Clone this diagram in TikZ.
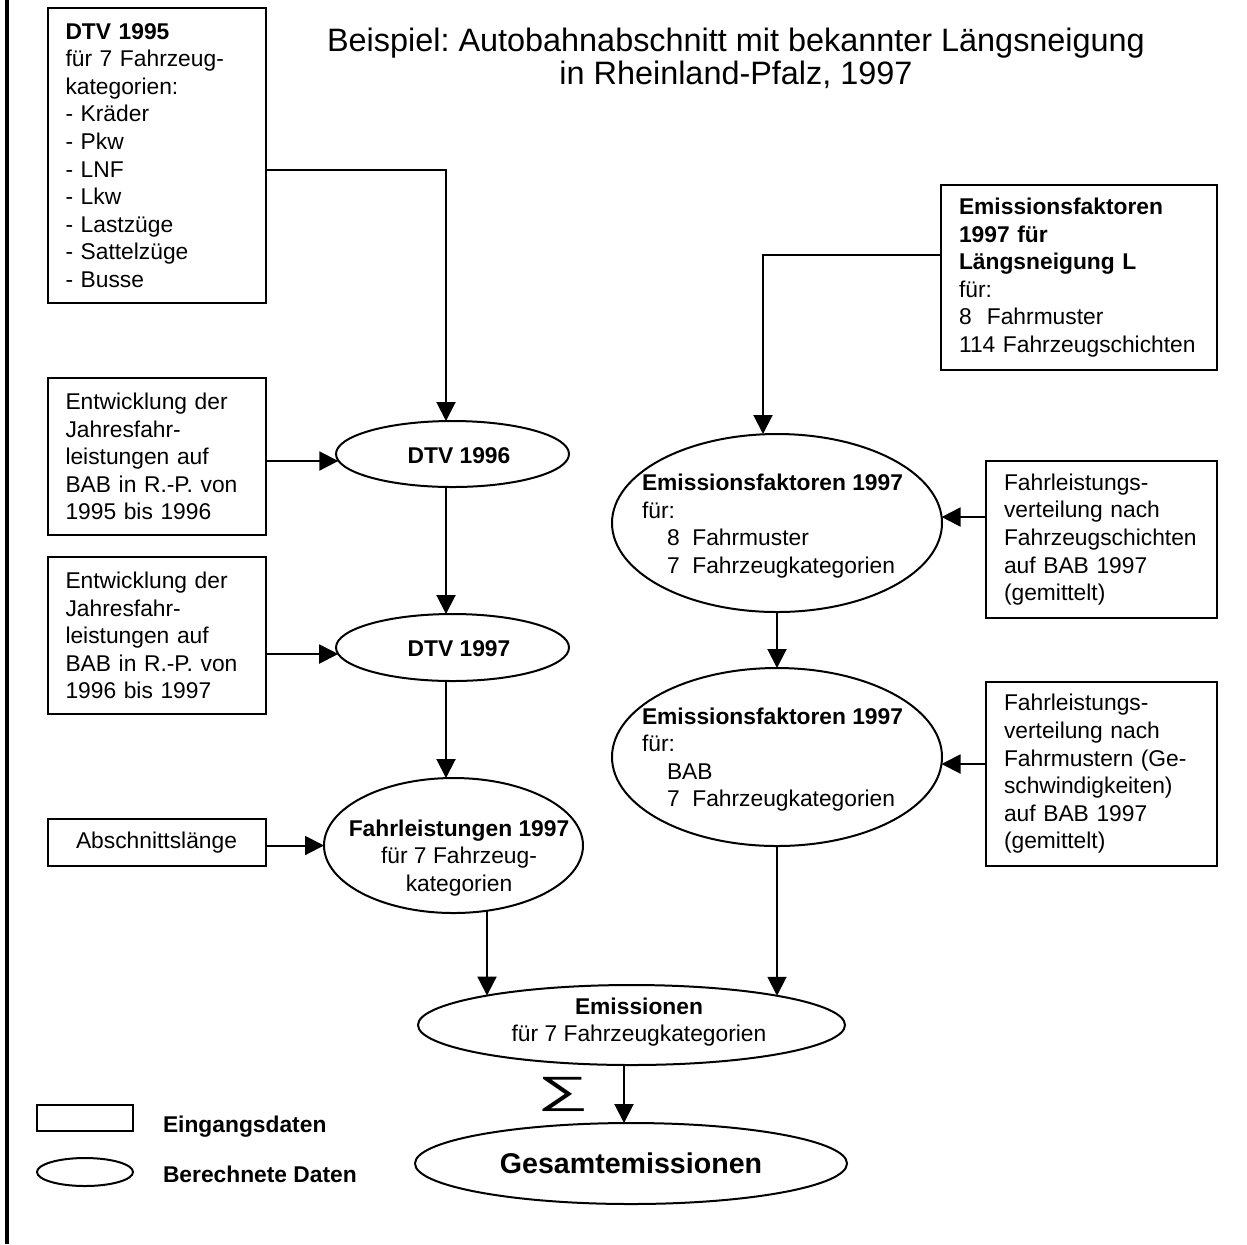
\documentclass[tikz,border=0pt]{standalone}
\usepackage{fontspec}
\setmainfont{Liberation Sans}
\usetikzlibrary{shapes.geometric,arrows.meta,calc}
\frenchspacing
\begin{document}
\begin{tikzpicture}[x=0.5pt,y=-0.5pt,
  every node/.style={font=\fontsize{11.4}{13.8}\selectfont},
  box/.style={draw, line width=1pt, rectangle, inner sep=0pt, outer sep=0pt},
  tbox/.style={box, align=left, inner xsep=9pt},
  oval/.style={draw, line width=1pt, ellipse, inner sep=0pt, outer sep=0pt},
  lbl/.style={inner sep=0pt, outer sep=0pt},
  conn/.style={line width=1pt, -{Triangle[length=9.5pt,width=9.5pt]}}
]
\useasboundingbox (0,0) rectangle (1247,1244);
\draw[line width=2pt] (7,0) -- (7,1244);

% title
\node[lbl, align=center, font=\fontsize{16.2}{16.5}\selectfont] (title) at (736,58)
  {Beispiel: Autobahnabschnitt mit bekannter Längsneigung\\in Rheinland-Pfalz, 1997};

% left input boxes
\node[tbox, text width=91pt, minimum height=147.5pt] (d95) at (156.5,155.5)
  {\textbf{DTV 1995}\\für 7 Fahrzeug-\\kategorien:\\- Kräder\\- Pkw\\- LNF\\- Lkw\\- Lastzüge\\- Sattelzüge\\- Busse};
\node[tbox, text width=91pt, minimum height=78.5pt] (e1) at (156.5,456.5)
  {Entwicklung der\\Jahresfahr-\\leistungen auf\\BAB in R.-P. von\\1995 bis 1996};
\node[tbox, text width=91pt, minimum height=78.5pt] (e2) at (156.5,635.5)
  {Entwicklung der\\Jahresfahr-\\leistungen auf\\BAB in R.-P. von\\1996 bis 1997};
\node[box, minimum width=109pt, minimum height=23.5pt] (ab) at (156.5,842.5) {Abschnittslänge};

% right input boxes
\node[tbox, text width=120pt, minimum height=92.5pt] (ef) at (1079,277.5)
  {\textbf{Emissionsfaktoren}\\\textbf{1997 für}\\\textbf{Längsneigung L}\\für:\\8~~Fahrmuster\\114 Fahrzeugschichten};
\node[tbox, text width=97.5pt, minimum height=78.5pt] (fv1) at (1101.5,539.5)
  {Fahrleistungs-\\verteilung nach\\Fahrzeugschichten\\auf BAB 1997\\(gemittelt)};
\node[tbox, text width=97.5pt, minimum height=92pt] (fv2) at (1101.5,774)
  {Fahrleistungs-\\verteilung nach\\Fahrmustern (Ge-\\schwindigkeiten)\\auf BAB 1997\\(gemittelt)};

% computed data (ellipses)
\node[oval, minimum width=116.5pt, minimum height=33pt] (d96) at (452.5,454) {};
\node[lbl, font=\fontsize{11.4}{13.8}\selectfont\bfseries] (d96t) at (459,456) {DTV 1996};
\node[oval, minimum width=116.5pt, minimum height=33.5pt] (d97) at (452.5,647.5) {};
\node[lbl, font=\fontsize{11.4}{13.8}\selectfont\bfseries] (d97t) at (459,649) {DTV 1997};
\node[oval, minimum width=129.5pt, minimum height=67.5pt] (fl) at (453.5,845.5) {};
\node[lbl, align=center] (flt) at (459,858)
  {\textbf{Fahrleistungen 1997}\\für 7 Fahrzeug-\\kategorien};
\node[oval, minimum width=165pt, minimum height=89pt] (ef1) at (777,523) {};
\node[lbl, align=left, anchor=west] (ef1t) at (642,526)
  {\textbf{Emissionsfaktoren 1997}\\für:\\\hspace*{12.5pt}8~~Fahrmuster\\\hspace*{12.5pt}7~~Fahrzeugkategorien};
\node[oval, minimum width=165pt, minimum height=89pt] (ef2) at (777,757) {};
\node[lbl, align=left, anchor=west] (ef2t) at (642,759.5)
  {\textbf{Emissionsfaktoren 1997}\\für:\\\hspace*{12.5pt}BAB\\\hspace*{12.5pt}7~~Fahrzeugkategorien};
\node[oval, minimum width=213.5pt, minimum height=40pt] (em) at (631.5,1025) {};
\node[lbl, align=center] (emt) at (639,1022) {\textbf{Emissionen}\\für 7 Fahrzeugkategorien};
\node[oval, minimum width=216pt, minimum height=40.5pt] (gs) at (631,1163.5) {};
\node[lbl, font=\fontsize{14.3}{16.5}\selectfont\bfseries] (gst) at (631,1163) {Gesamtemissionen};
\node[lbl, font=\fontsize{19}{19}\selectfont] (sig) at (563.5,1094.5) {\scalebox{1.9}[1]{∑}};

% legend
\node[box, minimum width=48pt, minimum height=13pt] (lr) at (85,1118) {};
\node[lbl, anchor=west, font=\fontsize{11.4}{13.8}\selectfont\bfseries] (lrlbl) at (163,1127) {Eingangsdaten};
\node[oval, minimum width=48pt, minimum height=14pt] (le) at (85,1172) {};
\node[lbl, anchor=west, font=\fontsize{11.4}{13.8}\selectfont\bfseries] (lelbl) at (163,1174) {Berechnete Daten};

% border points on the ellipses
\coordinate (p96) at ($(d96.center)+(-114.2,7)$);
\coordinate (p97) at ($(d97.center)+(-114.3,6.5)$);
\coordinate (pe1) at ($(ef1.center)+(164.6,-6)$);
\coordinate (pe2) at ($(ef2.center)+(164.5,7)$);
\coordinate (pfl) at ($(fl.center)+(33.5,65.2)$);
\coordinate (pemL) at ($(em.center)+(-144.5,-29.45)$);
\coordinate (pemR) at ($(em.center)+(145.5,-29.27)$);

% connectors
\draw[conn] ($(d95.east)+(0,14.5)$) -| ($(d96.north)+(-6.5,0)$);
\draw[conn] (e1.east |- p96) -- (p96);
\draw[conn] ($(d96.south)+(-6.5,0)$) -- ($(d97.north)+(-6.5,0)$);
\draw[conn] (e2.east |- p97) -- (p97);
\draw[conn] ($(d97.south)+(-6.5,0)$) -- ($(fl.north)+(-7.5,0)$);
\draw[conn] (ab.east |- fl.west) -- (fl.west);
\draw[conn] ($(ef.west)+(0,-22.5)$) -| ($(ef1.north)+(-14,0)$);
\draw[conn] (fv1.west |- pe1) -- (pe1);
\draw[conn] (ef1.south) -- (ef2.north);
\draw[conn] (fv2.west |- pe2) -- (pe2);
\draw[conn] (pfl) -- (pemL);
\draw[conn] (ef2.south) -- (pemR);
\draw[conn] ($(em.south)+(-7.5,0)$) -- ($(gs.north)+(-7,0)$);
\end{tikzpicture}
\end{document}
